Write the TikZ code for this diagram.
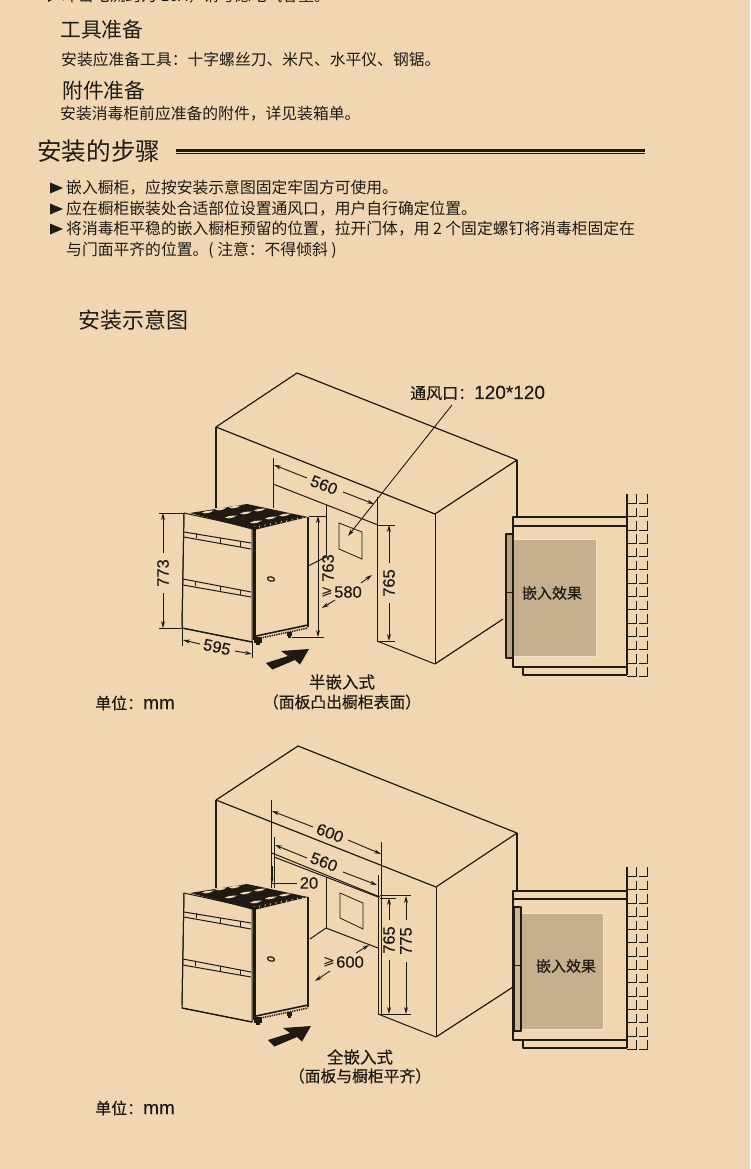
\documentclass[tikz,border=0pt]{standalone}
\usepackage{fontspec}
\setmainfont{Noto Sans CJK SC}
\newfontfamily\latinf[FakeBold=0.25]{Liberation Sans}
\newfontfamily\cjkb[FakeBold=0.4]{Noto Sans CJK SC}
\newfontfamily\symf{DejaVu Sans}
\usetikzlibrary{arrows.meta}
\definecolor{bgc}{HTML}{F0D6B1}
\definecolor{ink}{HTML}{1E1A14}
\definecolor{fillc}{HTML}{C5AF8D}
\definecolor{doorc}{HTML}{B7A17E}
\tikzset{
 ln/.style={draw=ink,line width=1pt,line join=round},
 hv/.style={draw=ink,line width=1.5pt,line join=round},
 thn/.style={draw=ink,line width=0.7pt},
 dimr/.style={draw=ink,line width=0.9pt,-{Stealth[length=7pt,width=4pt]}},
 ext/.style={draw=ink,line width=0.8pt},
 txt/.style={inner sep=0pt,text=ink,font=\fontsize{15.8}{18}\selectfont,anchor=west},
 lab/.style={inner sep=0pt,text=ink,font=\cjkb\fontsize{16}{18}\selectfont},
 dimt/.style={inner sep=0pt,text=ink,font=\latinf\fontsize{16.5}{18}\selectfont},
 gesym/.style={inner sep=0pt,text=ink,font=\symf\fontsize{14}{16}\selectfont},
 bul/.style={fill=ink,draw=none},
 brick/.style={draw=ink,line width=0.8pt},
}
\newcommand{\cabinetdraw}{%
 \path[ln] (184,513)--(252,528)--(252,642)--(182,628)--cycle;
 \draw[ln] (182,625)--(184,513);
 \draw[hv,line width=1.3pt] (182,628)--(252,642);
 % grate
 \fill[ink] (190,513)--(247,504)--(308,517)--(254,530)--cycle;
 \foreach \a/\b in {208/512,221/509,235/507,231/517,246/513,260/510,256/522,271/518,285/515}{
   \fill[bgc,rotate around={10:(\a,\b)}] (\a-6,\b-0.6)--(\a-1,\b-1.3)--(\a+6,\b-0.5)--(\a+2,\b+0.9)--(\a-3,\b+0.9)--cycle;
 }
 \foreach \t in {0,0.1,...,1}{
   \draw[bgc,line width=0.6pt] ({254+\t*54},{528.5-\t*11})--({254+\t*54+0.6},{526.5-\t*11});
 }
 % side thick edges
 \draw[ink,line width=3pt] (254,527)--(254,640);
 \draw[hv,line width=1.8pt] (308,517)--(308,627);
 % drawer lines
 \draw[ln] (184,532)--(251,543);
 \draw[ln] (184,537)--(251,549);
 \draw[ln] (183,579)--(251,592);
 \draw[ln] (183,585)--(251,597);
 \foreach \x/\y in {196/534,220/539,240/543,195/582,220/587,240/591}{
   \draw[thn,line width=0.5pt] (\x,\y-1.5)--(\x,\y+3.5);
 }
 % handle
 \draw[ink,line width=1.2pt,rotate around={-15:(271,579)}] (271,579) ellipse (3.6pt and 2.1pt);
 % bottom rail and feet
 \draw[ink,line width=1.6pt] (256,636)--(308,625);
 \draw[ink,line width=1.6pt,dash pattern=on 1.3pt off 1pt] (256,639)--(308,628);
 \fill[ink] (254,637) rectangle (262,643);
 \fill[ink] (256,643) rectangle (260,645);
 \fill[ink] (287,632) rectangle (292,636);
 \fill[ink] (288,636) rectangle (291,637.5);
}
\newcommand{\bricksdraw}[1]{%
 \foreach \i in {0,...,13}{
   \draw[brick] (636,{#1+13.3*\i})--(636,{#1+13.3*\i+9})--(627,{#1+13.3*\i+9});
   \draw[brick] (647.5,{#1+13.3*\i})--(647.5,{#1+13.3*\i+9})--(638.5,{#1+13.3*\i+9});
 }
}
\newcommand{\bigarrow}{%
 \fill[ink] (309,649)--(281,651)--(288,656)--(266,663)--(272.5,669.5)--(295,660)--(300,664.5)--cycle;
}
\begin{document}
\begin{tikzpicture}[x=1pt,y=-1pt]
\useasboundingbox (0,0) rectangle (750,1169);
\fill[bgc] (0,0) rectangle (750,1169);
% ---------- top text
\fill[bul] (48,-8)--(58,-3)--(48,2)--cycle;
\node[txt] (t0) at (62,-4) {冲击电流约为 10A，请考虑电气容量。};
\node[txt,font=\fontsize{20.8}{24}\selectfont] (h1) at (60,30) {工具准备};
\node[txt] (t1) at (61,59) {安装应准备工具：十字螺丝刀、米尺、水平仪、钢锯。};
\node[txt,font=\fontsize{20.8}{24}\selectfont] (h2) at (62,91) {附件准备};
\node[txt] (t2) at (60,114) {安装消毒柜前应准备的附件，详见装箱单。};
\node[txt,font=\fontsize{24.6}{28}\selectfont] (h3) at (37,151) {安装的步骤};
\draw[ink,line width=2.2pt] (176,150.5)--(645,150.5);
\draw[ink,line width=1pt] (176,154)--(645,154);
\foreach \y in {188,209,229}{\fill[bul] (50,\y-5.5)--(63,\y)--(50,\y+5.5)--cycle;}
\node[txt] (s1) at (66,188) {嵌入橱柜，应按安装示意图固定牢固方可使用。};
\node[txt] (s2) at (66,209) {应在橱柜嵌装处合适部位设置通风口，用户自行确定位置。};
\node[txt] (s3) at (66,229) {将消毒柜平稳的嵌入橱柜预留的位置，拉开门体，用 2 个固定螺钉将消毒柜固定在};
\node[txt] (s4) at (66,250) {与门面平齐的位置。( 注意：不得倾斜 )};
\node[txt,font=\fontsize{22}{26}\selectfont] (h4) at (78,320) {安装示意图};
% ---------- upper diagram, cabinet block
\draw[ln,line width=1.2pt] (216,427)--(297,373)--(517,460)--(435,514)--(216,427);
\draw[ln,line width=1.2pt] (216,427)--(216,508);
\draw[ln] (435,514)--(435,664);
\draw[hv,line width=1.3pt] (517,460)--(517,517);
\draw[ln,line width=1.2pt] (435,664)--(503,619);
\draw[ln] (377,641)--(435,664);
\draw[ln] (273,484)--(378,525);
\draw[ln] (273,458)--(273,508);
\draw[ln] (377,497)--(377,641);
\draw[ln] (326,505)--(326,557);
\draw[ln] (308,566)--(326,557);
\draw[ext] (339,523)--(362,532)--(362,559)--(339,549)--cycle;
\coordinate (ventT) at (348,536);
\coordinate (ventS) at (452,405);
\draw[dimr] (ventS)--(ventT);
\node[lab,anchor=west] (ventL) at (410,393) {通风口：{\latinf\fontsize{19}{20}\selectfont 120*120}};
% dims
\draw[ext] (184,513)--(159,513) (182,628)--(159,628);
\draw[dimr] (163,553)--(163,513);
\draw[dimr] (163,593)--(163,628);
\node[dimt,rotate=90] (d773) at (163,573) {773};
\draw[ext] (182,625)--(182,646) (252,642)--(252,658);
\draw[dimr] (200,644)--(183,640);
\draw[dimr] (235,651)--(252,654);
\node[dimt,rotate=-12] (d595) at (217,647) {595};
\draw[ext] (309,516)--(327,516) (292,637)--(324,637);
\draw[dimr] (318,576)--(318,516);
\draw[dimr] (318,576)--(318,637);
\node[dimt,rotate=90] (d763) at (328,568) {763};
\node[gesym] (g580) at (327,592) {⩾};
\node[dimt] (d580) at (348,592) {580};
\draw[dimr] (335,600)--(322,608);
\draw[dimr] (361,583)--(372,575);
\draw[ext] (378,525)--(395,525) (377,641)--(395,641);
\draw[dimr] (389,563)--(389,525);
\draw[dimr] (389,603)--(389,641);
\node[dimt,rotate=90] (d765) at (389,583) {765};
\draw[dimr] (307,478)--(274,465);
\draw[dimr] (343,492)--(374,504);
\node[dimt,rotate=-21] (d560) at (324,485) {560};
\cabinetdraw
\bigarrow
\node[lab,font=\cjkb\fontsize{16.5}{18}\selectfont] (l1) at (342,682) {半嵌入式};
\node[lab,font=\cjkb\fontsize{15.8}{18}\selectfont] (l2) at (342,702) {（面板凸出橱柜表面）};
\node[lab,anchor=west] (u1) at (95,703) {单位：{\latinf\fontsize{19}{20}\selectfont mm}};
% upper right plan
\fill[fillc] (513,539) rectangle (596,656);
\draw[draw=bgc!70!white,line width=0.8pt] (513,539) rectangle (596,656);
\fill[doorc] (506,534) rectangle (513,658);
\draw[hv,line width=1.1pt] (513,658)--(506,658)--(506,534)--(513,534);
\draw[thn] (506,592)--(513,592);
\draw[hv] (627,517)--(513,517)--(513,667)--(627,667);
\draw[hv,line width=1.1pt] (513,526)--(627,526);
\draw[hv] (523,667)--(523,675)--(627,675);
\draw[hv,line width=1.1pt] (627,494)--(627,675);
\bricksdraw{494.3}
\node[lab,font=\cjkb\fontsize{15}{18}\selectfont] (e1) at (552,593) {嵌入效果};
% ---------- lower diagram
\draw[ln,line width=1.2pt] (216,800)--(298,746)--(517,833)--(436,887)--(216,800);
\draw[ln,line width=1.2pt] (216,800)--(216,888);
\draw[ln] (436,887)--(436,1037);
\draw[hv,line width=1.3pt] (517,833)--(517,891);
\draw[ln,line width=1.2pt] (436,1037)--(513,987);
\draw[ln] (378,1014)--(436,1037);
\draw[ext] (271,800)--(271,888);
\draw[ext] (381,842)--(381,1014);
\draw[ext] (274,837)--(274,888);
\draw[ext] (378,875)--(378,1014);
\draw[ln] (272,853)--(380,897);
\draw[ln] (274,857)--(378,897);
\draw[ln] (326,877)--(326,928);
\draw[ln] (310,939)--(326,928)--(378,948);
\draw[ext] (340,893)--(363,903)--(363,929)--(340,918)--cycle;
\draw[dimr] (313,827)--(272,811);
\draw[dimr] (348,840)--(381,854);
\node[dimt,rotate=-21] (d600) at (330,833) {600};
\draw[dimr] (307,858)--(275,845);
\draw[dimr] (343,872)--(377,885);
\node[dimt,rotate=-21] (d560b) at (324,862) {560};
\draw[ext] (380,895)--(411,895) (380,898)--(396,898) (378,1014)--(411,1014);
\draw[dimr] (389,920)--(389,898);
\draw[dimr] (389,960)--(389,1014);
\node[dimt,rotate=90] (d765b) at (389,940) {765};
\draw[dimr] (406,920)--(406,896);
\draw[dimr] (406,962)--(406,1014);
\node[dimt,rotate=90] (d775) at (406,941) {775};
\draw[ext] (272,883)--(297,883);
\draw[ink,line width=1pt,-{Stealth[length=5pt,width=3pt]}] (272,866)--(272,883);
\node[dimt] (d20) at (309,883) {20};
\node[gesym] (g600) at (329,962) {⩾};
\node[dimt] (d600b) at (350,962) {600};
\draw[dimr] (330,971)--(315,981);
\draw[dimr] (356,953)--(369,945);
\begin{scope}[shift={(0,380)}]
\cabinetdraw
\end{scope}
\begin{scope}[shift={(2,377)}]
\bigarrow
\end{scope}
\node[lab,font=\cjkb\fontsize{16.5}{18}\selectfont] (l3) at (360,1057) {全嵌入式};
\node[lab,font=\cjkb\fontsize{15.8}{18}\selectfont] (l4) at (360,1076) {（面板与橱柜平齐）};
\node[lab,anchor=west] (u2) at (95,1108) {单位：{\latinf\fontsize{19}{20}\selectfont mm}};
% lower right plan
\fill[fillc] (521,913) rectangle (603,1029);
\draw[draw=bgc!70!white,line width=0.8pt] (521,913) rectangle (603,1029);
\fill[doorc!60!bgc] (514,907) rectangle (521,1031);
\draw[hv,line width=1.1pt] (514,907) rectangle (521,1031);
\draw[thn] (514,965)--(521,965);
\draw[hv] (627,891)--(513,891)--(513,1040)--(627,1040);
\draw[hv,line width=1.1pt] (513,899)--(627,899);
\draw[hv] (523,1040)--(523,1048)--(627,1048);
\draw[hv,line width=1.1pt] (627,867)--(627,1048);
\bricksdraw{867.3}
\node[lab,font=\cjkb\fontsize{15}{18}\selectfont] (e2) at (566,966) {嵌入效果};
\end{tikzpicture}
\end{document}
